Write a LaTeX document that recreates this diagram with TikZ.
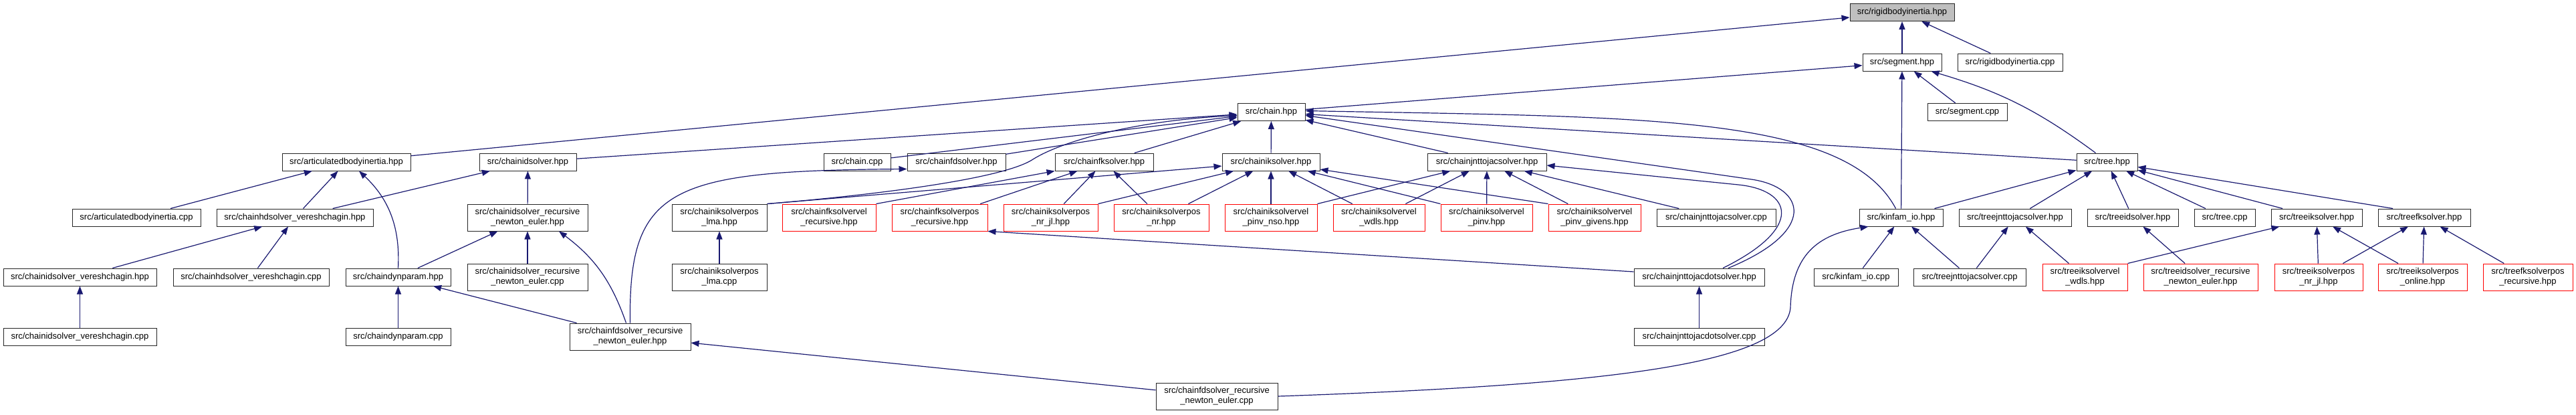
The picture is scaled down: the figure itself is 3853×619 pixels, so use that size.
\documentclass[tikz,border=0pt]{standalone}
\usepackage{fontspec}
\setmainfont{Liberation Sans}
\usepackage{xcolor}
\usepackage{tikz}
\usetikzlibrary{arrows.meta}
\definecolor{edgeblue}{HTML}{191970}
\definecolor{rootgray}{HTML}{BFBFBF}
\definecolor{boxline}{HTML}{262626}

\begin{document}
\begin{tikzpicture}[x=1pt,y=-1pt,>={Triangle[length=12pt,width=9pt]}]
\tikzset{box/.style={draw=boxline,line width=1pt,fill=white,inner sep=1pt,minimum height=26pt,align=center,font=\fontsize{13}{15}\selectfont},
  dbl/.style={box,minimum height=40pt},
  redbox/.style={dbl,draw=red},
  wd/.style={minimum width=#1},
  dep/.style={->,draw=edgeblue,line width=1.2pt}}
\useasboundingbox (0,0) rectangle (3853,619);
\node[box,fill=rootgray,wd=156] (rbih) at (2845,18.5) {src/rigidbodyinertia.hpp};
\node[box,wd=118] (seg) at (2845,93) {src/segment.hpp};
\node[box,wd=157] (rbic) at (3006.5,93) {src/rigidbodyinertia.cpp};
\node[box,wd=101] (chain) at (1901.5,167.5) {src/chain.hpp};
\node[box,wd=119] (segc) at (2942.5,167.5) {src/segment.cpp};
\node[box,wd=192] (abih) at (518,242) {src/articulatedbodyinertia.hpp};
\node[box,wd=145] (cidh) at (789.5,242) {src/chainidsolver.hpp};
\node[box,wd=100] (chainc) at (1282,242) {src/chain.cpp};
\node[box,wd=147] (cfdh) at (1430.5,242) {src/chainfdsolver.hpp};
\node[box,wd=147] (cfkh) at (1651.5,242) {src/chainfksolver.hpp};
\node[box,wd=146] (cikh) at (1901,242) {src/chainiksolver.hpp};
\node[box,wd=178] (cjjh) at (2224,242) {src/chainjnttojacsolver.hpp};
\node[box,wd=91] (tree) at (3151.5,242) {src/tree.hpp};
\node[box,wd=192] (abic) at (204,325) {src/articulatedbodyinertia.cpp};
\node[box,wd=234] (chvh) at (441,325) {src/chainhdsolver\_vereshchagin.hpp};
\node[dbl,wd=180] (cidrneh) at (789,325) {src/chainidsolver\_recursive\\\_newton\_euler.hpp};
\node[dbl,wd=142] (ciklmah) at (1076,325) {src/chainiksolverpos\\\_lma.hpp};
\node[redbox,wd=140] (cfkvr) at (1240,325) {src/chainfksolvervel\\\_recursive.hpp};
\node[redbox,wd=143] (cfkpr) at (1405.5,325) {src/chainfksolverpos\\\_recursive.hpp};
\node[redbox,wd=141] (cikpnrjl) at (1571.5,325) {src/chainiksolverpos\\\_nr\_jl.hpp};
\node[redbox,wd=142] (cikpnr) at (1737,325) {src/chainiksolverpos\\\_nr.hpp};
\node[redbox,wd=138] (cikvnso) at (1901,325) {src/chainiksolvervel\\\_pinv\_nso.hpp};
\node[redbox,wd=137] (cikvwdls) at (2062.5,325) {src/chainiksolvervel\\\_wdls.hpp};
\node[redbox,wd=137] (cikvpinv) at (2223.5,325) {src/chainiksolvervel\\\_pinv.hpp};
\node[redbox,wd=138] (cikvgiv) at (2385,325) {src/chainiksolvervel\\\_pinv\_givens.hpp};
\node[box,wd=178] (cjjc) at (2567,325) {src/chainjnttojacsolver.cpp};
\node[box,wd=125] (kinh) at (2843.5,325) {src/kinfam\_io.hpp};
\node[box,wd=168] (tjjh) at (3014,325) {src/treejnttojacsolver.hpp};
\node[box,wd=136] (tidh) at (3190,325) {src/treeidsolver.hpp};
\node[box,wd=91] (treec) at (3327.5,325) {src/tree.cpp};
\node[box,wd=136] (tikh) at (3465,325) {src/treeiksolver.hpp};
\node[box,wd=138] (tfkh) at (3626,325) {src/treefksolver.hpp};
\node[box,wd=229] (civh) at (119.5,414) {src/chainidsolver\_vereshchagin.hpp};
\node[box,wd=233] (chvc) at (375.5,414) {src/chainhdsolver\_vereshchagin.cpp};
\node[box,wd=157] (cdph) at (595.5,414) {src/chaindynparam.hpp};
\node[dbl,wd=180] (cidrnec) at (789,414) {src/chainidsolver\_recursive\\\_newton\_euler.cpp};
\node[dbl,wd=142] (ciklmac) at (1076,414) {src/chainiksolverpos\\\_lma.cpp};
\node[box,wd=195] (cjjdh) at (2541.5,414) {src/chainjnttojacdotsolver.hpp};
\node[box,wd=126] (kinc) at (2776,414) {src/kinfam\_io.cpp};
\node[box,wd=168] (tjjc) at (2946,414) {src/treejnttojacsolver.cpp};
\node[redbox,wd=127] (tikvwdls) at (3118.5,414) {src/treeiksolvervel\\\_wdls.hpp};
\node[redbox,wd=171] (tidrne) at (3291.5,414) {src/treeidsolver\_recursive\\\_newton\_euler.hpp};
\node[redbox,wd=132] (tikpnrjl) at (3468,414) {src/treeiksolverpos\\\_nr\_jl.hpp};
\node[redbox,wd=133] (tikponl) at (3623.5,414) {src/treeiksolverpos\\\_online.hpp};
\node[redbox,wd=134] (tfkpr) at (3781,414) {src/treefksolverpos\\\_recursive.hpp};
\node[box,wd=229] (civc) at (119.5,503) {src/chainidsolver\_vereshchagin.cpp};
\node[box,wd=157] (cdpc) at (595.5,503) {src/chaindynparam.cpp};
\node[dbl,wd=181] (cfdrneh) at (942.5,503) {src/chainfdsolver\_recursive\\\_newton\_euler.hpp};
\node[box,wd=195] (cjjdc) at (2541.5,503) {src/chainjnttojacdotsolver.cpp};
\node[dbl,wd=182] (cfdrnec) at (1820,592) {src/chainfdsolver\_recursive\\\_newton\_euler.cpp};
\draw[dep] (seg) -- (rbih);
\draw[dep] (rbic) -- (rbih);
\draw[dep] (abih) -- (rbih);
\draw[dep] (chain) -- (seg);
\draw[dep] (segc) -- (seg);
\draw[dep] ([xshift=-17pt]tree.north) to[bend right=10] ([xshift=-16pt]seg.south east);
\draw[dep] (kinh) -- (seg);
\draw[dep] (cidh) -- (chain);
\draw[dep] (chainc) -- (chain);
\draw[dep] (cfdh) -- (chain);
\draw[dep] (cfkh) -- (chain);
\draw[dep] (cikh) -- (chain);
\draw[dep] (cjjh) -- (chain);
\draw[dep] (tree) -- (chain);
\draw[dep] ([xshift=-8pt]kinh.north) .. controls (2760,170) and (2450,175) .. ([yshift=2pt]chain.east);
\draw[dep] ([xshift=43.5pt]cjjdh.north) .. controls (2720,345) and (2700,280) .. (2620,268) -- ([yshift=-5pt]chain.east);
\draw[dep] ([xshift=35.5pt]cjjdh.north) .. controls (2700,340) and (2680,284) .. (2600,276) -- ([yshift=-5pt]cjjh.east);
\draw[dep] (cfdrnec.east) .. controls (2400,575) and (2670,545) .. (2678,460) .. controls (2680,380) and (2720,350) .. ([xshift=14pt]kinh.south west);
\draw[dep] ([yshift=8pt]cjjdh.west) -- (cfkpr.south east);
\draw[dep] (cfdrnec) -- (cfdrneh);
\draw[dep] (cjjdc) -- (cjjdh);
\draw[dep] (abic) -- (abih);
\draw[dep] (chvh) -- (abih);
\draw[dep] (cdph.north) to[bend right=25] ([xshift=19pt]abih.south);
\draw[dep] (chvh) -- (cidh);
\draw[dep] (civh) -- (chvh);
\draw[dep] (chvc) -- (chvh);
\draw[dep] (civc) -- (civh);
\draw[dep] (cdpc) -- (cdph);
\draw[dep] (cdph) -- (cidrneh);
\draw[dep] (cidrneh) -- (cidh);
\draw[dep] (cidrnec) -- (cidrneh);
\draw[dep] ([xshift=-6pt]cfdrneh.north) to[bend right=17] ([xshift=47pt]cidrneh.south);
\draw[dep] (cfdrneh) -- (cdph);
\draw[dep] (cfdrneh.north) .. controls (940,280) and (1000,255) .. ([yshift=3pt]cfdh.south west);
\draw[dep] (ciklmac) -- (ciklmah);
\draw[dep] (ciklmah.north east) .. controls (1300,292) and (1500,268) .. (1545,238) .. controls (1590,210) and (1700,180) .. ([yshift=-5pt]chain.west);
\draw[dep] (ciklmah.north east) -- (cikh);
\draw[dep] (cfkvr.north east) -- (cfkh.south west);
\draw[dep] (cfkpr) -- (cfkh);
\draw[dep] (cikpnrjl) -- (cfkh);
\draw[dep] (cikpnrjl.north east) -- (cikh);
\draw[dep] (cikpnr) -- (cfkh);
\draw[dep] (cikpnr) -- (cikh);
\draw[dep] (cikvnso) -- (cikh);
\draw[dep] (cikvnso.north east) -- (cjjh);
\draw[dep] (cikvwdls) -- (cikh);
\draw[dep] (cikvwdls) -- (cjjh);
\draw[dep] (cikvpinv.north west) -- (cikh);
\draw[dep] (cikvpinv) -- (cjjh);
\draw[dep] (cikvgiv.north west) -- (cikh);
\draw[dep] (cikvgiv) -- (cjjh);
\draw[dep] (cjjc) -- (cjjh);
\draw[dep] (kinh) -- (tree);
\draw[dep] (tjjh) -- (tree);
\draw[dep] (tidh) -- (tree);
\draw[dep] (treec) -- (tree);
\draw[dep] (tikh) -- (tree);
\draw[dep] ([xshift=-47pt]tfkh.north) -- (tree);
\draw[dep] (kinc) -- (kinh);
\draw[dep] (tjjc) -- (kinh);
\draw[dep] (tjjc) -- (tjjh);
\draw[dep] (tikvwdls) -- (tjjh);
\draw[dep] (tikvwdls.north east) -- (tikh);
\draw[dep] (tidrne) -- (tidh);
\draw[dep] (tikpnrjl) -- (tikh);
\draw[dep] (tikpnrjl) -- (tfkh);
\draw[dep] (tikponl) -- (tikh);
\draw[dep] (tikponl) -- (tfkh);
\draw[dep] (tfkpr) -- (tfkh);
\end{tikzpicture}
\end{document}
